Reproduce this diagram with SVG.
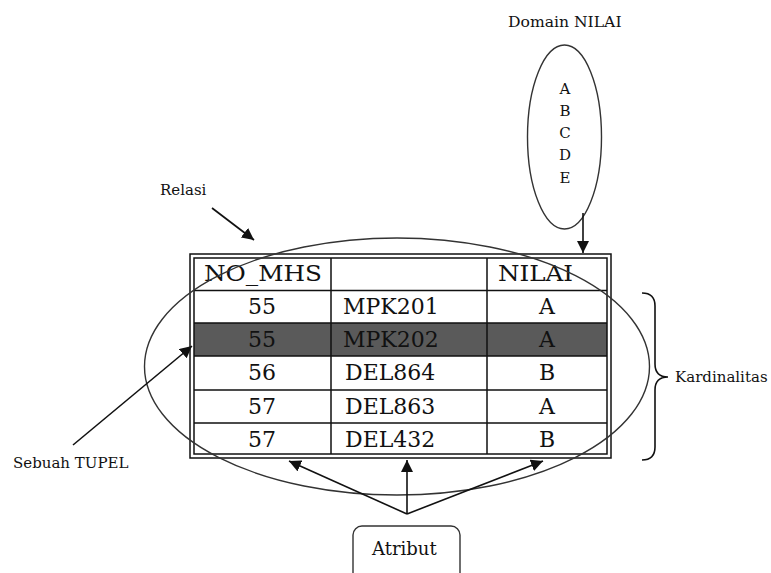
<svg xmlns="http://www.w3.org/2000/svg" width="771" height="573" viewBox="0 0 771 573">
  <style>
    text { font-family: 'DejaVu Serif', 'Liberation Serif', serif; fill: #111; }
    .lbl { font-size: 15px; }
    .cell { font-size: 22px; }
    .mid { text-anchor: middle; }
    .grid { stroke: #111; stroke-width: 1.5; fill: none; }
    .line { stroke: #111; stroke-width: 1.6; fill: none; }
    .oval { stroke: #333; stroke-width: 1.4; fill: none; }
  </style>
  <defs>
    <marker id="arrow" markerUnits="userSpaceOnUse" markerWidth="12" markerHeight="12" viewBox="0 0 12 12" refX="12" refY="6" orient="auto">
      <path d="M0,0 L12,6 L0,12 Z" fill="#111"/>
    </marker>
  </defs>
  <rect width="771" height="573" fill="#fff"/>

  <!-- relation table -->
  <g id="table">
    <rect x="194" y="258" width="413" height="196" fill="#fff"/>
    <rect x="194" y="323" width="413" height="33" fill="#5a5a5a"/>
    <rect x="190" y="254" width="421" height="204" class="grid"/>
    <rect x="194" y="258" width="413" height="196" class="grid"/>
    <path class="grid" d="M194,290.5H607 M194,323H607 M194,356H607 M194,390H607 M194,423H607 M331,258V454 M487,258V454"/>
    <text class="cell" x="204" y="281" textLength="118" lengthAdjust="spacingAndGlyphs">NO_MHS</text>
    <text class="cell" x="498" y="281" textLength="75" lengthAdjust="spacingAndGlyphs">NILAI</text>
    <text class="cell mid" x="262" y="314">55</text>
    <text class="cell" x="343" y="314">MPK201</text>
    <text class="cell mid" x="547" y="314">A</text>
    <text class="cell mid" x="262" y="347">55</text>
    <text class="cell" x="343" y="347">MPK202</text>
    <text class="cell mid" x="547" y="347">A</text>
    <text class="cell mid" x="262" y="380">56</text>
    <text class="cell" x="345" y="380">DEL864</text>
    <text class="cell mid" x="547" y="380">B</text>
    <text class="cell mid" x="262" y="414">57</text>
    <text class="cell" x="345" y="414">DEL863</text>
    <text class="cell mid" x="547" y="414">A</text>
    <text class="cell mid" x="262" y="447">57</text>
    <text class="cell" x="345" y="447">DEL432</text>
    <text class="cell mid" x="547" y="447">B</text>
  </g>

  <!-- relation outline -->
  <g id="relasi-oval">
    <ellipse class="oval" cx="397" cy="366.5" rx="252.5" ry="128.5"/>
  </g>

  <!-- domain of NILAI -->
  <g id="domain">
    <text class="lbl" x="508" y="27" style="font-size:15.6px">Domain NILAI</text>
    <ellipse class="oval" cx="564.5" cy="137" rx="37" ry="92"/>
    <text class="lbl mid" x="565" y="94">A</text>
    <text class="lbl mid" x="565" y="116">B</text>
    <text class="lbl mid" x="565" y="138">C</text>
    <text class="lbl mid" x="565" y="160">D</text>
    <text class="lbl mid" x="565" y="183">E</text>
  </g>

  <g id="relasi-label">
    <text class="lbl" x="160" y="195">Relasi</text>
  </g>

  <g id="tupel-label">
    <text class="lbl" x="13" y="468">Sebuah TUPEL</text>
  </g>

  <g id="kardinalitas">
    <path class="line" d="M642,293 Q655,293 655,306 L655,364 Q655,377 668,377 Q655,377 655,390 L655,447 Q655,460 642,460"/>
    <text class="lbl" x="675" y="382">Kardinalitas</text>
  </g>

  <g id="atribut">
    <rect x="353" y="526" width="107" height="60" rx="9" ry="9" fill="#fff" stroke="#333" stroke-width="1.4"/>
    <text class="lbl" x="372" y="555" style="font-size:18px">Atribut</text>
  </g>

  <!-- connectors -->
  <g id="connectors">
    <line class="line" x1="212" y1="208" x2="254" y2="240" marker-end="url(#arrow)"/>
    <line class="line" x1="583" y1="213" x2="583" y2="253" marker-end="url(#arrow)"/>
    <line class="line" x1="73" y1="445" x2="192" y2="346" marker-end="url(#arrow)"/>
    <line class="line" x1="407" y1="514" x2="289" y2="461" marker-end="url(#arrow)"/>
    <line class="line" x1="407" y1="514" x2="407" y2="460" marker-end="url(#arrow)"/>
    <line class="line" x1="407" y1="514" x2="543" y2="461" marker-end="url(#arrow)"/>
  </g>
</svg>
